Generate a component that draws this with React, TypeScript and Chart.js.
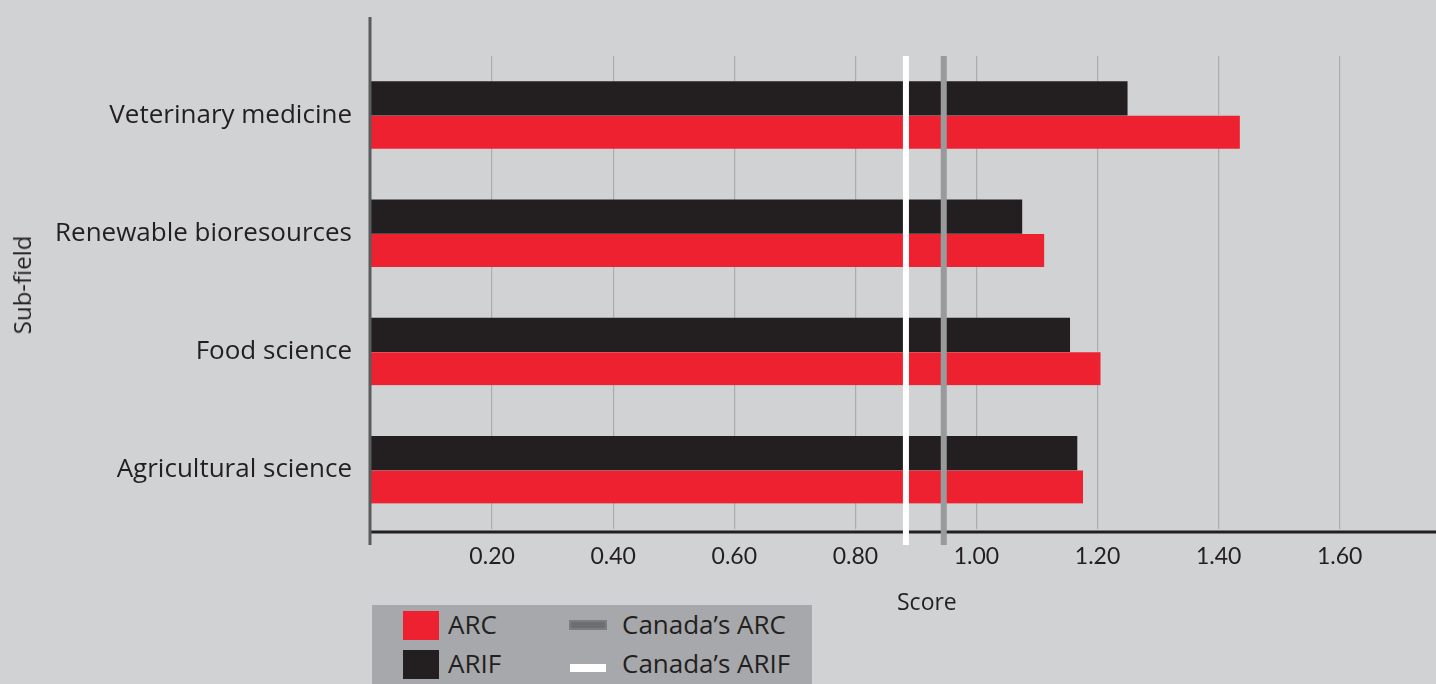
import React, { useEffect, useRef } from "react";
import { Chart, registerables } from "chart.js";

Chart.register(...registerables);

const CATEGORIES = ["Veterinary medicine", "Renewable bioresources", "Food science", "Agricultural science"];
const ARIF_VALUES = [1.249, 1.075, 1.154, 1.166];
const ARC_VALUES = [1.435, 1.112, 1.205, 1.176];
const X_TICKS = [0.2, 0.4, 0.6, 0.8, 1.0, 1.2, 1.4, 1.6];
const X_MAX = 1.759;
const CANADA_ARC = 0.946;
const CANADA_ARIF = 0.8835;

const BG = "#d1d2d4";
const RED = "#ee2130";
const BLACK = "#231f20";
const TEXT = "#231f20";
const FONT = "'Open Sans'";
const TICK_FONT = "Lato";

const overlayPlugin = {
  id: "overlay",
  afterDatasetsDraw(chart: any) {
    const { ctx, chartArea, scales } = chart;
    const xs = scales.x;
    ctx.save();
    // x axis line
    ctx.strokeStyle = BLACK;
    ctx.lineWidth = 3;
    ctx.beginPath();
    ctx.moveTo(chartArea.left - 2, chartArea.bottom + 3);
    ctx.lineTo(chartArea.right, chartArea.bottom + 3);
    ctx.stroke();
    // y axis line
    ctx.strokeStyle = "#5a5b5d";
    ctx.lineWidth = 3;
    ctx.beginPath();
    ctx.moveTo(chartArea.left - 1, 17);
    ctx.lineTo(chartArea.left - 1, chartArea.bottom + 16);
    ctx.stroke();
    // Canada reference lines
    const vline = (v: number, color: string, w: number) => {
      const px = xs.getPixelForValue(v);
      ctx.fillStyle = color;
      ctx.fillRect(px - w / 2, chartArea.top, w, chartArea.bottom + 16 - chartArea.top);
    };
    vline(CANADA_ARIF, "#ffffff", 6);
    vline(CANADA_ARC, "#999a9c", 6);
    ctx.restore();
  },
};

export default function App() {
  const ref = useRef<HTMLCanvasElement | null>(null);

  useEffect(() => {
    if (!ref.current) return;
    const chart = new Chart(ref.current, {
      type: "bar",
      data: {
        labels: CATEGORIES,
        datasets: [
          {
            label: "ARIF",
            data: ARIF_VALUES,
            backgroundColor: BLACK,
            borderWidth: 0,
            barThickness: 33.5,
          },
          {
            label: "ARC",
            data: ARC_VALUES,
            backgroundColor: RED,
            borderColor: BG,
            borderWidth: { top: 1, bottom: 0, left: 0, right: 0 },
            borderSkipped: false,
            barThickness: 33.5,
          },
        ],
      },
      options: {
        indexAxis: "y",
        animation: false,
        responsive: false,
        maintainAspectRatio: false,
        layout: { padding: { top: 56, left: 0, right: 0, bottom: 0 } },
        plugins: {
          legend: { display: false },
          tooltip: { enabled: false },
        },
        scales: {
          x: {
            type: "linear",
            position: "bottom",
            min: 0,
            max: X_MAX,
            afterBuildTicks: (s: any) => {
              s.ticks = X_TICKS.map((v) => ({ value: v }));
            },
            afterFit: (s: any) => {
              s.height = 155;
            },
            grid: { color: "#abacae", lineWidth: 1.2, drawTicks: false },
            border: { display: false },
            ticks: {
              color: TEXT,
              font: { family: TICK_FONT, size: 23 },
              padding: 14,
              maxRotation: 0,
              autoSkip: false,
              callback: (v: any) => Number(v).toFixed(2),
            },
          },
          y: {
            type: "category",
            position: "left",
            afterFit: (s: any) => {
              s.width = 371;
            },
            grid: { display: false, drawTicks: false },
            border: { display: false },
            ticks: {
              color: TEXT,
              font: { family: FONT, size: 26 },
              padding: 19,
            },
          },
        },
      },
      plugins: [overlayPlugin],
    } as any);
    return () => chart.destroy();
  }, []);

  const legendText: React.CSSProperties = {
    position: "absolute",
    fontFamily: FONT,
    fontSize: 26,
    color: TEXT,
    lineHeight: "30px",
    whiteSpace: "nowrap",
  };

  return (
    <div style={{ position: "fixed", left: 0, top: 0, width: 1436, height: 684, background: BG, overflow: "hidden" }}>
      <canvas ref={ref} width={1436} height={684} style={{ position: "absolute", left: 0, top: 0, width: 1436, height: 684 }} />
      <div
        style={{
          position: "absolute",
          left: 22,
          top: 285,
          transform: "translate(-50%, -50%) rotate(-90deg)",
          fontFamily: FONT,
          fontSize: 24,
          color: TEXT,
          lineHeight: "30px",
          whiteSpace: "nowrap",
        }}
      >
        Sub-field
      </div>
      <div style={{ position: "absolute", left: 897, top: 586, fontFamily: FONT, fontSize: 23, color: TEXT, lineHeight: "30px" }}>Score</div>
      <div style={{ position: "absolute", left: 372, top: 605, width: 440, height: 79, background: "#a7a8ab" }}>
        <div style={{ position: "absolute", left: 31, top: 6, width: 36, height: 29, background: RED }} />
        <div style={{ ...legendText, left: 76, top: 4 }}>ARC</div>
        <div style={{ position: "absolute", left: 31, top: 45, width: 36, height: 29, background: BLACK }} />
        <div style={{ ...legendText, left: 76, top: 43 }}>ARIF</div>
        <div style={{ position: "absolute", left: 197, top: 15, width: 38, height: 10, background: "#6d6e71", boxSizing: "border-box", border: "2px solid #7c7d80" }} />
        <div style={{ ...legendText, left: 250, top: 4 }}>Canada’s ARC</div>
        <div style={{ position: "absolute", left: 198, top: 59, width: 36, height: 8, background: "#ffffff" }} />
        <div style={{ ...legendText, left: 250, top: 43 }}>Canada’s ARIF</div>
      </div>
    </div>
  );
}
